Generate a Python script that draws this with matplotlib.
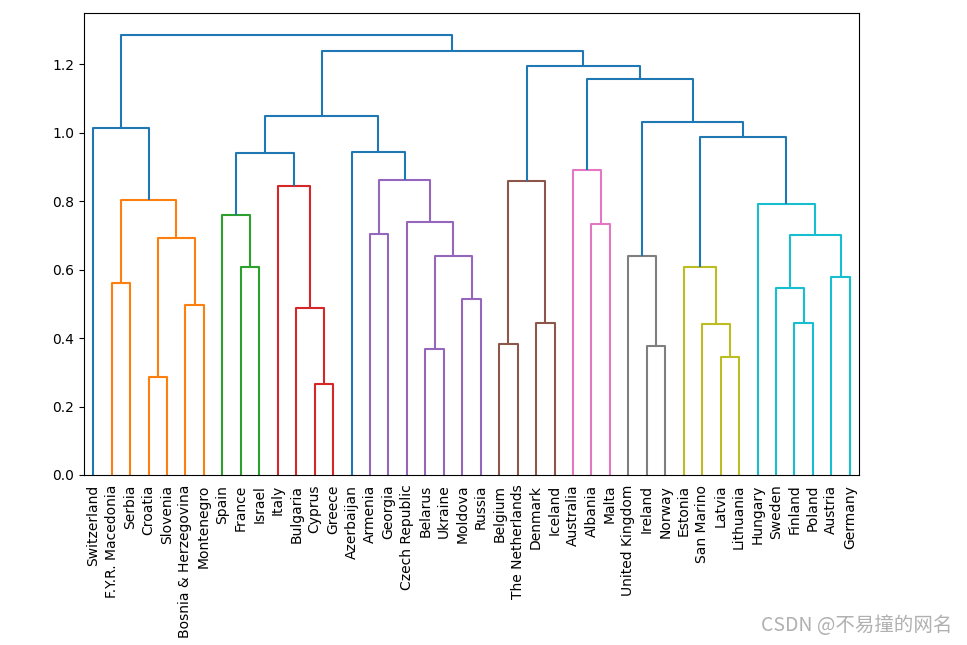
import matplotlib.pyplot as plt
from matplotlib.collections import LineCollection
import numpy as np

# leaf labels, in the order they appear along the x axis
leaves = ['Switzerland', 'F.Y.R. Macedonia', 'Serbia', 'Croatia', 'Slovenia',
          'Bosnia & Herzegovina', 'Montenegro', 'Spain', 'France', 'Israel',
          'Italy', 'Bulgaria', 'Cyprus', 'Greece', 'Azerbaijan', 'Armenia',
          'Georgia', 'Czech Republic', 'Belarus', 'Ukraine', 'Moldova', 'Russia',
          'Belgium', 'The Netherlands', 'Denmark', 'Iceland', 'Australia',
          'Albania', 'Malta', 'United Kingdom', 'Ireland', 'Norway', 'Estonia',
          'San Marino', 'Latvia', 'Lithuania', 'Hungary', 'Sweden', 'Finland',
          'Poland', 'Austria', 'Germany']

# merges: left child, right child (id < 42 is a leaf, else 42 + merge index)
left = [3, 12, 34, 18, 30, 22, 24, 38, 33, 11, 5, 20, 37, 1, 40, 8, 32, 45, 29, 42,
        54, 15, 27, 17, 7, 36, 55, 10, 47, 63, 26, 66, 14, 58, 0, 60, 73, 72, 70, 78, 76]
right = [4, 13, 35, 19, 31, 23, 25, 39, 44, 43, 6, 21, 49, 2, 41, 9, 50, 53, 46, 52,
         56, 16, 28, 59, 57, 62, 61, 51, 48, 65, 64, 69, 71, 67, 68, 75, 74, 77, 79, 80, 81]
height = [0.287, 0.267, 0.345, 0.368, 0.378, 0.383, 0.444, 0.445, 0.442, 0.489,
          0.496, 0.515, 0.547, 0.561, 0.579, 0.607, 0.608, 0.639, 0.639, 0.692,
          0.701, 0.705, 0.734, 0.740, 0.760, 0.792, 0.804, 0.845, 0.859, 0.862,
          0.891, 0.940, 0.943, 0.987, 1.013, 1.032, 1.049, 1.156, 1.195, 1.238, 1.285]
colour = ['C1', 'C3', 'C8', 'C4', 'C7', 'C5', 'C5', 'C9', 'C8', 'C3',
          'C1', 'C4', 'C9', 'C1', 'C9', 'C2', 'C8', 'C4', 'C7', 'C1',
          'C9', 'C4', 'C6', 'C4', 'C2', 'C9', 'C1', 'C3', 'C5', 'C4',
          'C6', 'C0', 'C0', 'C0', 'C0', 'C0', 'C0', 'C0', 'C0', 'C0', 'C0']

n = len(leaves)
xs = [5 + 10 * i for i in range(n)]
hs = [0.0] * n
segs = []
for a, b, h in zip(left, right, height):
    segs.append([(xs[a], hs[a]), (xs[a], h), (xs[b], h), (xs[b], hs[b])])
    xs.append((xs[a] + xs[b]) / 2)
    hs.append(h)

fig = plt.figure(figsize=(9.67, 6.45), dpi=100)
ax = fig.add_axes([84 / 967, 1 - 475 / 645, 775 / 967, 462 / 645])
ax.add_collection(LineCollection(segs, colors=colour, linewidths=1.5))
ax.set_xlim(0, 10 * n)
ax.set_ylim(0, max(height) * 1.05)
ax.set_xticks([5 + 10 * i for i in range(n)])
ax.set_xticklabels(leaves, rotation=90, fontsize=10)
for line in ax.get_xticklines():
    line.set_visible(False)

fig.text(0.985, 0.03, 'CSDN @不易撞的网名', ha='right', va='center', fontsize=14,
         color='#b0b0b0', family=['Noto Sans CJK SC', 'DejaVu Sans'])

fig.savefig('out.png', dpi=100)
